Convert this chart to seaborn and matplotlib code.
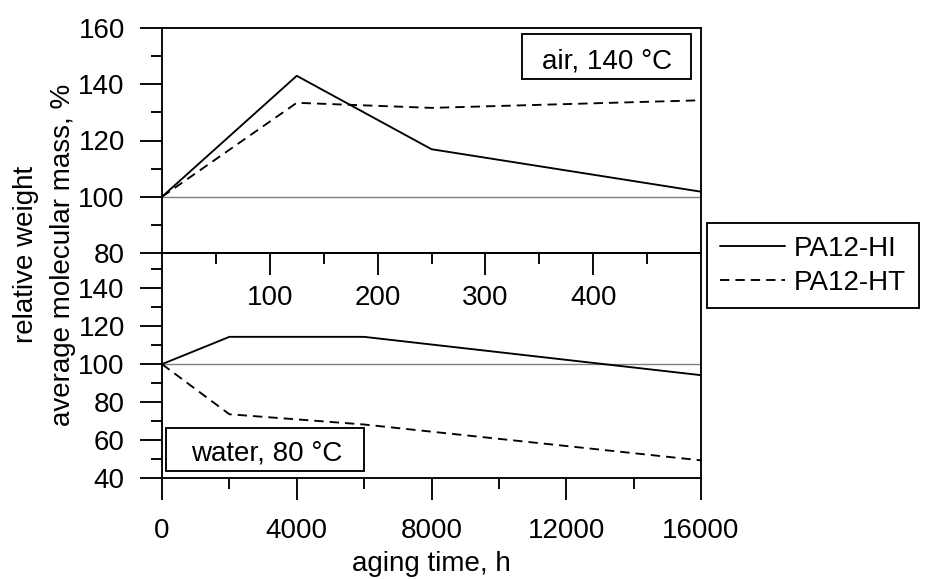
import numpy as np
import pandas as pd
import matplotlib
matplotlib.use("Agg")
import matplotlib.pyplot as plt
from matplotlib.lines import Line2D
from matplotlib.patches import Rectangle
import seaborn as sns

# ---------------- data ----------------
samples = ["PA12-HI", "PA12-HT"]

air_hours_HI = [0, 4000, 8000, 16000]
air_HI = [100, 143.0, 116.9, 101.8]
air_hours_HT = [0, 4000, 8000, 16000]
air_HT = [100, 133.4, 131.6, 134.3]

water_hours_HI = [0, 2000, 6000, 16000]
water_HI = [100, 114.4, 114.4, 94.2]
water_hours_HT = [0, 2000, 6000, 16000]
water_HT = [100, 73.6, 68.2, 49.3]

bottom_xticks = [0, 4000, 8000, 12000, 16000]
mid_tick_labels = ["100", "200", "300", "400"]
top_yticks = [80, 100, 120, 140, 160]
bot_yticks = [40, 60, 80, 100, 120, 140]

air_label = "air, 140 °C"
water_label = "water, 80 °C"
xlabel = "aging time, h"
ylabel1 = "relative weight"
ylabel2 = "average molecular mass, %"

df_air = pd.DataFrame({
    "hours": air_hours_HI + air_hours_HT,
    "value": air_HI + air_HT,
    "sample": [samples[0]] * len(air_HI) + [samples[1]] * len(air_HT),
})
df_water = pd.DataFrame({
    "hours": water_hours_HI + water_hours_HT,
    "value": water_HI + water_HT,
    "sample": [samples[0]] * len(water_HI) + [samples[1]] * len(water_HT),
})

# ---------------- style ----------------
sns.set_style("ticks")
plt.rcParams["font.family"] = ["Liberation Sans", "DejaVu Sans"]
for key in ["text.color", "axes.labelcolor", "xtick.color", "ytick.color", "axes.edgecolor"]:
    plt.rcParams[key] = "black"
FS = 20
LW = 1.35
dash_map = {samples[0]: "", samples[1]: (5, 3.2)}

fig = plt.figure(figsize=(9.27, 5.79), dpi=100)
left, width = 162 / 927, 539 / 927
h = 225 / 579
ax_top = fig.add_axes([left, 1 - 253 / 579, width, h])
ax_bot = fig.add_axes([left, 1 - 478 / 579, width, h])
for ax in (ax_top, ax_bot):
    ax.patch.set_visible(False)
    for s in ax.spines.values():
        s.set_linewidth(LW)
        s.set_color("black")
        s.set_visible(True)
ax_top.set_zorder(3)

# gray reference line at 100
for ax in (ax_top, ax_bot):
    ax.axhline(100, color="#808080", lw=1.0, zorder=1)

sns.lineplot(data=df_air, x="hours", y="value", style="sample", dashes=dash_map,
             color="black", lw=LW, legend=False, ax=ax_top, sort=False, zorder=2)
sns.lineplot(data=df_water, x="hours", y="value", style="sample", dashes=dash_map,
             color="black", lw=LW, legend=False, ax=ax_bot, sort=False, zorder=2)

# axis limits and ticks
ax_top.set_xlim(0, 16000)
ax_bot.set_xlim(0, 16000)
ax_top.set_ylim(80, 160)
ax_bot.set_ylim(40, 158.6)

ax_top.set_yticks(top_yticks)
ax_top.set_yticks(np.arange(90, 160, 20), minor=True)
ax_bot.set_yticks(bot_yticks)
ax_bot.set_yticks(np.arange(50, 158, 20), minor=True)

# middle (top-panel) x axis: secondary scale 0..500 mapped onto 0..16000 h
mid_major = [3200 * (i + 1) for i in range(len(mid_tick_labels))]
ax_top.set_xticks(mid_major)
ax_top.set_xticklabels(mid_tick_labels)
ax_top.set_xticks([1600, 4800, 8000, 11200, 14400], minor=True)

ax_bot.set_xticks(bottom_xticks)
ax_bot.set_xticklabels([str(v) for v in bottom_xticks])
ax_bot.set_xticks([2000, 6000, 10000, 14000], minor=True)

for ax in (ax_top, ax_bot):
    ax.tick_params(axis="both", which="major", direction="out", length=15.8,
                   width=LW, labelsize=FS, colors="black")
    ax.tick_params(axis="both", which="minor", direction="out", length=7.9,
                   width=LW, colors="black")
    ax.tick_params(axis="y", which="major", pad=11)
    ax.tick_params(top=False, right=False, which="both")
    ax.set_xlabel("")
    ax.set_ylabel("")
ax_top.tick_params(axis="x", which="major", pad=7)
ax_bot.tick_params(axis="x", which="major", pad=13)

ax_bot.set_xlabel(xlabel, fontsize=FS, labelpad=5, color="black")

fig.text(26 / 927, 0.56, ylabel1, rotation=90, ha="center", va="center", fontsize=FS)
fig.text(63 / 927, 0.56, ylabel2, rotation=90, ha="center", va="center", fontsize=FS)

# condition labels with boxes
ax_top.add_patch(Rectangle((0.6679, 0.7733), 0.9814 - 0.6679, 0.9733 - 0.7733,
                           transform=ax_top.transAxes, fill=True, fc="white",
                           ec="black", lw=LW, zorder=4))
ax_top.text(0.8256, 0.8209, air_label, transform=ax_top.transAxes, ha="center",
            va="baseline", fontsize=FS, zorder=5)
ax_bot.add_patch(Rectangle((0.0069, 0.0324), 0.3753 - 0.0069, 0.2236 - 0.0324,
                           transform=ax_bot.transAxes, fill=True, fc="white",
                           ec="black", lw=LW, zorder=4))
ax_bot.text(0.1945, 0.0769, water_label, transform=ax_bot.transAxes, ha="center",
            va="baseline", fontsize=FS, zorder=5)

# legend
handles = [Line2D([0], [0], color="black", lw=LW),
           Line2D([0], [0], color="black", lw=LW, dashes=(5, 3.2))]
leg = fig.legend(handles, samples, loc="upper left",
                 bbox_to_anchor=(707 / 927, 1 - 223 / 579), borderaxespad=0,
                 fontsize=FS, frameon=True, fancybox=False, framealpha=1,
                 edgecolor="black", handlelength=2.34, handletextpad=0.35,
                 borderpad=0.45, labelspacing=0.3)
leg.get_frame().set_linewidth(LW)

fig.savefig("out.png", dpi=100, facecolor="white")
